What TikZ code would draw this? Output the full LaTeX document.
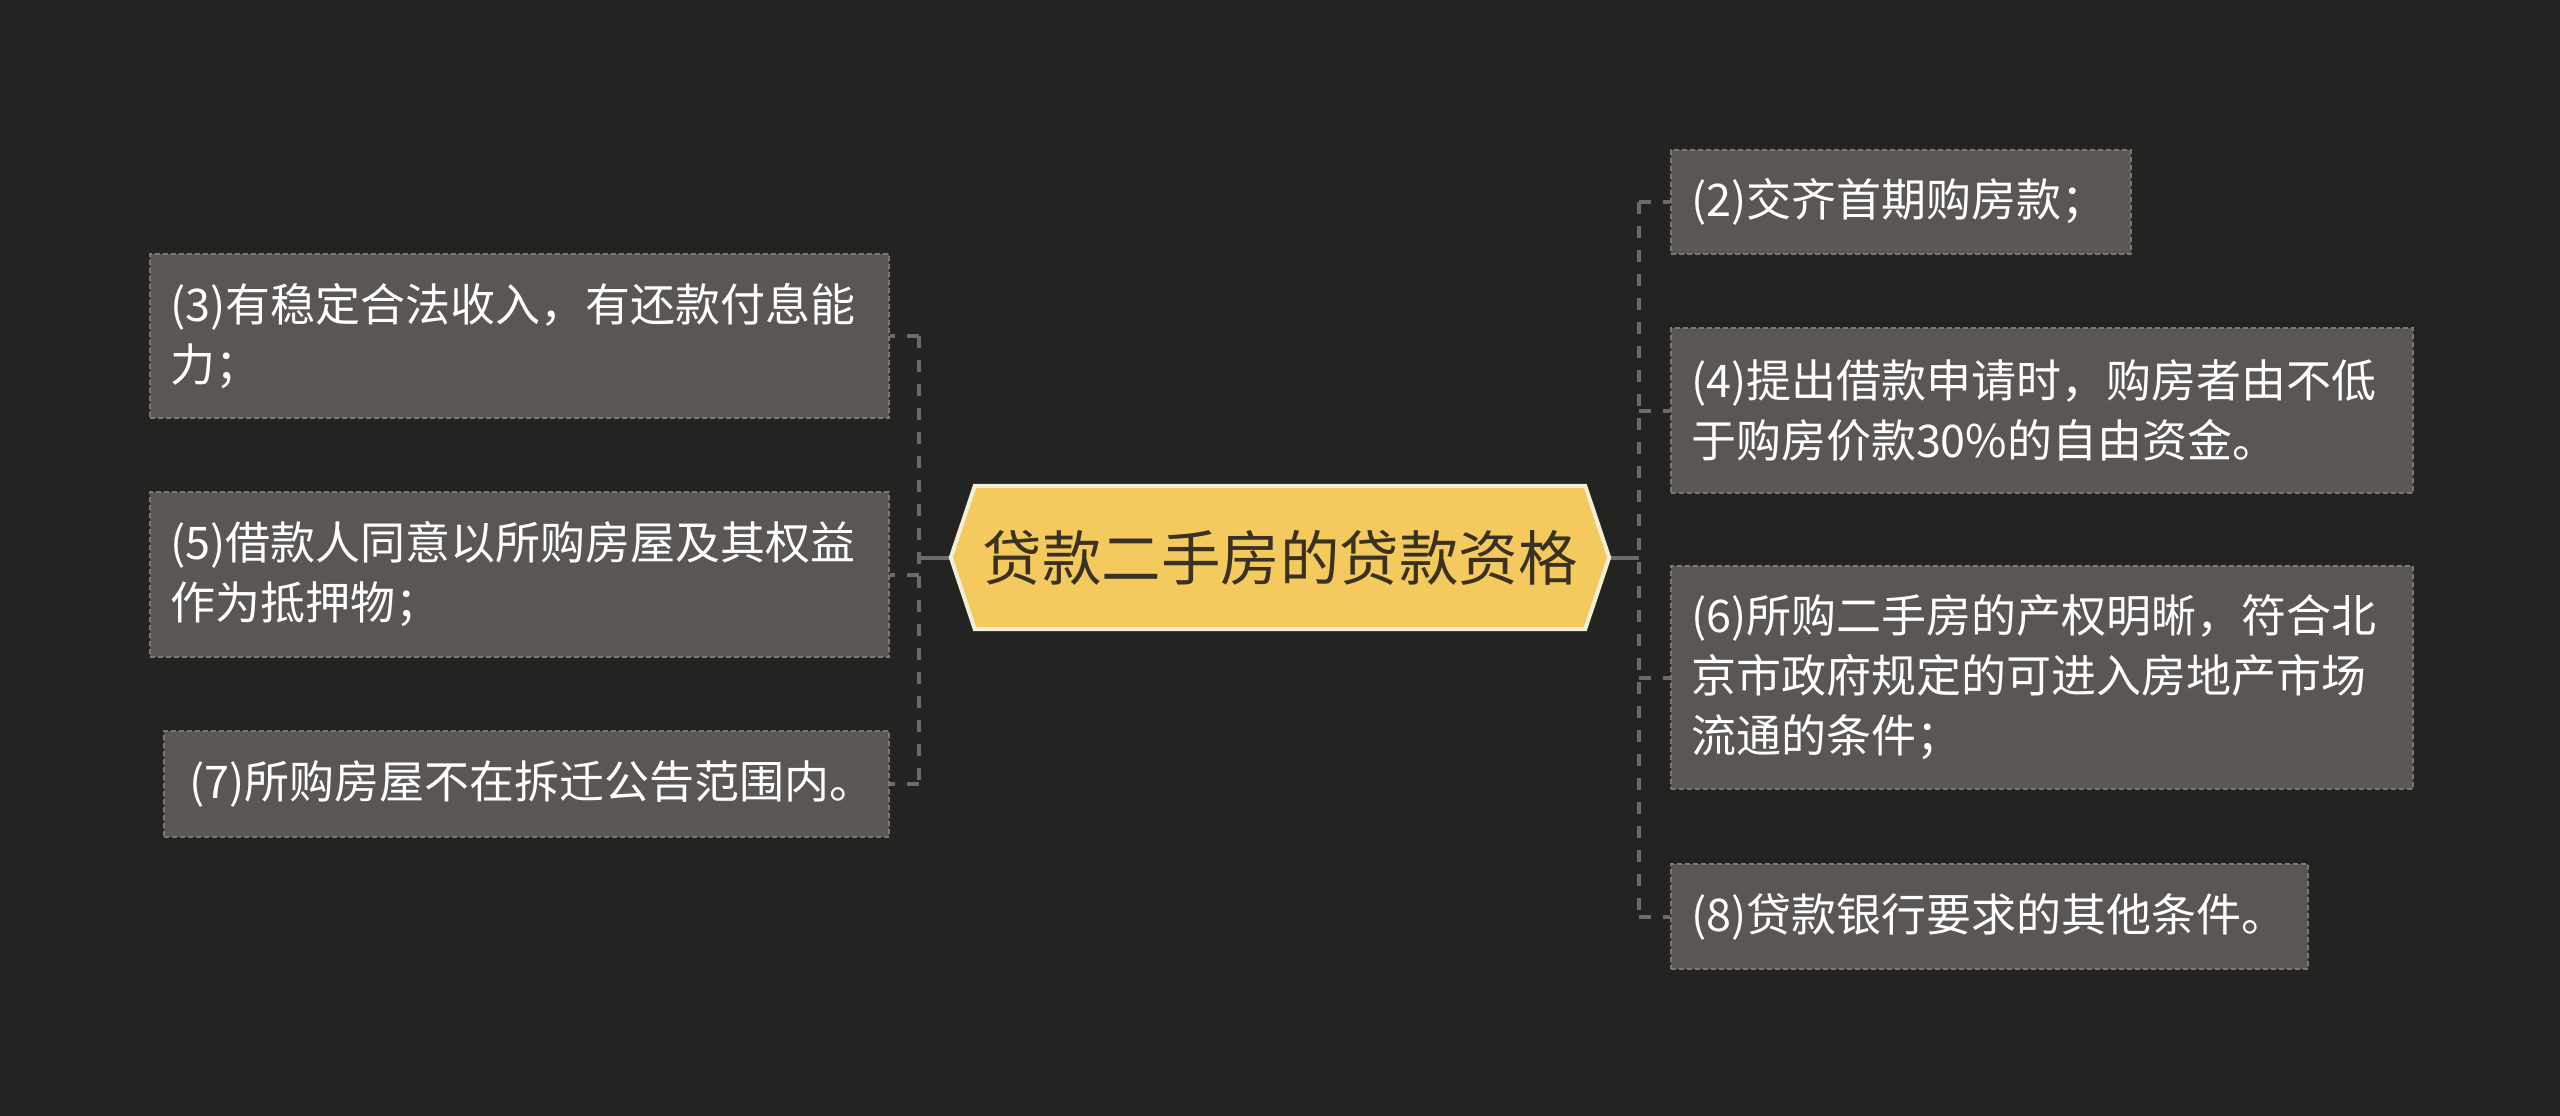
\documentclass[tikz,border=0pt]{standalone}
\usepackage{fontspec}
\setmainfont{Noto Sans CJK SC}
\definecolor{bg}{HTML}{232322}
\definecolor{boxfill}{HTML}{595654}
\definecolor{boxline}{HTML}{7A7774}
\definecolor{connc}{HTML}{6B6B6A}
\definecolor{yel}{HTML}{F4CA5E}
\definecolor{cream}{HTML}{F2EFD8}
\definecolor{darktxt}{HTML}{3A3122}
\begin{document}
\begin{tikzpicture}[x=1pt,y=-1pt,
  box/.style={fill=boxfill, draw=boxline, line width=2pt, dash pattern=on 5pt off 3pt,
    text=white, anchor=north west, inner xsep=20pt, inner ysep=0pt, align=left,
    font=\fontsize{45}{60}\selectfont},
  conn/.style={draw=connc, line width=4pt, dash pattern=on 12pt off 12pt},
  connsolid/.style={draw=connc, line width=4pt}
]
\fill[bg] (0,0) rectangle (2560,1116);
\useasboundingbox (0,0) rectangle (2560,1116);

% central node frame
\node (c) at (1280,557.5) [minimum width=610pt, minimum height=143pt, inner sep=0pt] {};
\coordinate (cl) at ([xshift=-24pt]c.west);
\coordinate (cr) at ([xshift=24pt]c.east);

% boxes
\node[box, minimum width=739pt, minimum height=164pt, text width=699pt] (b3) at (149,253)
  {(3)有稳定合法收入，有还款付息能\\力；};
\node[box, minimum width=739pt, minimum height=165pt, text width=699pt] (b5) at (149,491)
  {(5)借款人同意以所购房屋及其权益\\作为抵押物；};
\node[box, minimum width=725pt, minimum height=106pt, text width=685pt] (b7) at (163,730)
  {\hspace*{5pt}(7)所购房屋不在拆迁公告范围内。};
\node[box, minimum width=460pt, minimum height=104pt, text width=420pt] (b2) at (1670,149)
  {(2)交齐首期购房款；};
\node[box, minimum width=742pt, minimum height=165pt, text width=702pt] (b4) at (1670,327)
  {(4)提出借款申请时，购房者由不低\\于购房价款30\%的自由资金。};
\node[box, minimum width=742pt, minimum height=223pt, text width=702pt] (b6) at (1670,565)
  {(6)所购二手房的产权明晰，符合北\\京市政府规定的可进入房地产市场\\流通的条件；};
\node[box, minimum width=637pt, minimum height=105pt, text width=597pt] (b8) at (1670,863)
  {(8)贷款银行要求的其他条件。};

% connectors
\coordinate (jl) at (919,557.5);
\coordinate (jr) at (1639,557.5);
\draw[connsolid] (cl) -- (jl);
\draw[conn] (jl |- b3.east) -- (jl |- b7.east);
\draw[conn] (jl |- b3.east) -- (b3.east);
\draw[conn] (jl |- b5.east) -- (b5.east);
\draw[conn] (jl |- b7.east) -- (b7.east);
\draw[connsolid] (cr) -- (jr);
\draw[conn] (jr |- b2.west) -- (jr |- b8.west);
\draw[conn] (jr |- b2.west) -- (b2.west);
\draw[conn] (jr |- b4.west) -- (b4.west);
\draw[conn] (jr |- b6.west) -- (b6.west);
\draw[conn] (jr |- b8.west) -- (b8.west);

% central hexagon
\filldraw[fill=yel, draw=cream, line width=4pt, line join=miter]
  (cl) -- (c.north west) -- (c.north east) -- (cr) -- (c.south east) -- (c.south west) -- cycle;
\node (ct) at (c) [text=darktxt, inner sep=0pt, font=\fontsize{59.5}{62}\selectfont] {贷款二手房的贷款资格};
\end{tikzpicture}
\end{document}
